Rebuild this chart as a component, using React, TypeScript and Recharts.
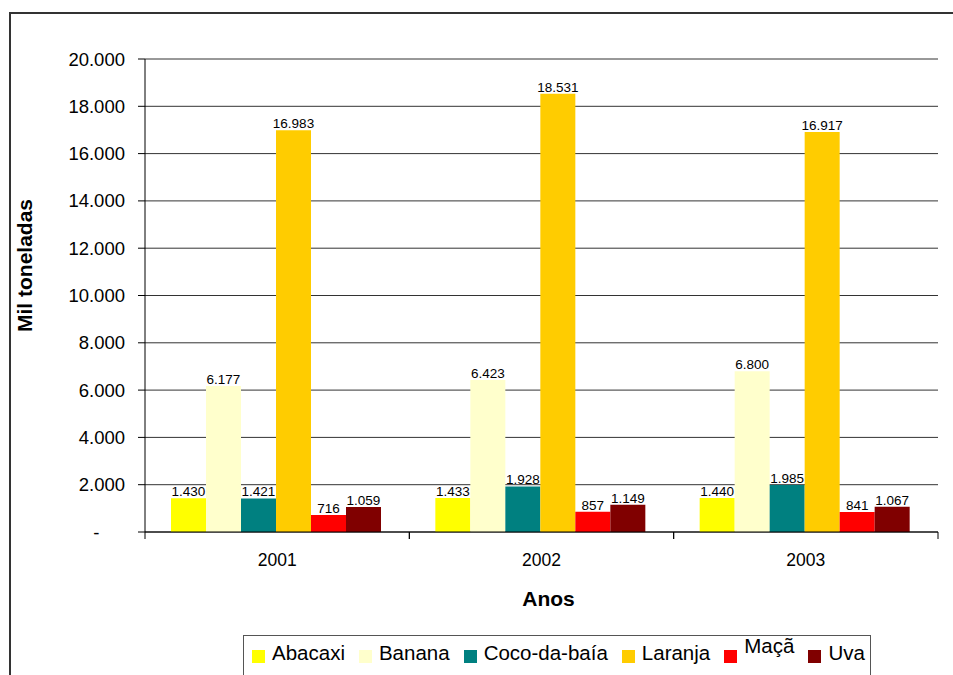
import React from 'react';
import { BarChart, Bar, XAxis, YAxis, CartesianGrid, LabelList, Label } from 'recharts';

const years = ['2001', '2002', '2003'];
const abacaxi = [1430, 1433, 1440];
const banana = [6177, 6423, 6800];
const coco = [1421, 1928, 1985];
const laranja = [16983, 18531, 16917];
const maca = [716, 857, 841];
const uva = [1059, 1149, 1067];
const yTicks = [0, 2000, 4000, 6000, 8000, 10000, 12000, 14000, 16000, 18000, 20000];

const seriesNames = ['Abacaxi', 'Banana', 'Coco-da-baía', 'Laranja', 'Maçã', 'Uva'];
const seriesKeys = ['abacaxi', 'banana', 'coco', 'laranja', 'maca', 'uva'];
const seriesColors = ['#FFFF00', '#FFFFCC', '#008080', '#FFCC00', '#FF0000', '#800000'];

const data = years.map((y, i) => ({
  year: y,
  abacaxi: abacaxi[i],
  banana: banana[i],
  coco: coco[i],
  laranja: laranja[i],
  maca: maca[i],
  uva: uva[i],
}));

const FONT = '"Liberation Sans", Arial, sans-serif';
const W = 953;
const H = 675;
const MARGIN = { top: 59, right: 15, left: 0, bottom: 83 };
const Y_AXIS_W = 145;
const X_AXIS_H = 60;

const fmt = (v: number) =>
  v === 0 ? '-\u00a0\u00a0\u00a0\u00a0\u00a0' : String(v).replace(/\B(?=(\d{3})+(?!\d))/g, '.');
const fmtLabel = (v: any) => String(v).replace(/\B(?=(\d{3})+(?!\d))/g, '.');

const plotW = W - MARGIN.left - MARGIN.right - Y_AXIS_W;
const band = plotW / years.length;

const XTick = (props: any) => {
  const { x, y, payload } = props;
  return (
    <g>
      <line x1={x - band / 2} x2={x - band / 2} y1={y} y2={y + 7} stroke="#000" strokeWidth={1} />
      <line x1={x + band / 2} x2={x + band / 2} y1={y} y2={y + 7} stroke="#000" strokeWidth={1} />
      <text x={x} y={y + 34} textAnchor="middle" fontSize={17.5} fontFamily={FONT} fill="#000">
        {payload.value}
      </text>
    </g>
  );
};

const YTitle = (props: any) => {
  const vb = props.viewBox || {};
  const cx = 24;
  const cy = vb.y + vb.height / 2 - 30;
  return (
    <text
      x={cx}
      y={cy}
      transform={`rotate(-90, ${cx}, ${cy})`}
      textAnchor="middle"
      dominantBaseline="central"
      fontSize={21}
      fontWeight="bold"
      fontFamily={FONT}
      fill="#000"
    >
      Mil toneladas
    </text>
  );
};

const XTitle = (props: any) => {
  const vb = props.viewBox || {};
  const cx = vb.x + vb.width / 2 + 7;
  return (
    <text x={cx} y={606} textAnchor="middle" fontSize={21} fontWeight="bold" fontFamily={FONT} fill="#000">
      Anos
    </text>
  );
};

export default function App() {
  return (
    <div
      style={{
        position: 'fixed',
        left: 0,
        top: 0,
        width: W,
        height: H,
        overflow: 'hidden',
        background: '#fff',
        fontFamily: FONT,
      }}
    >
      <div
        style={{
          position: 'absolute',
          left: 9,
          top: 12,
          width: 1200,
          height: 1200,
          border: '2px solid #333',
          boxSizing: 'border-box',
        }}
      />
      <div style={{ position: 'absolute', left: 0, top: 0 }}>
        <BarChart width={W} height={H} data={data} margin={MARGIN} barGap={0} barCategoryGap={26}>
          <CartesianGrid vertical={false} stroke="#333" strokeWidth={1} />
          <XAxis
            dataKey="year"
            height={X_AXIS_H}
            axisLine={{ stroke: '#000', strokeWidth: 1 }}
            tickLine={false}
            tickSize={0}
            tickMargin={0}
            tick={<XTick />}
            interval={0}
          >
            <Label content={<XTitle />} />
          </XAxis>
          <YAxis
            width={Y_AXIS_W}
            domain={[0, 20000]}
            ticks={yTicks}
            interval={0}
            tickFormatter={fmt}
            axisLine={{ stroke: '#000', strokeWidth: 1 }}
            tickLine={{ stroke: '#000', strokeWidth: 1 }}
            tickSize={7}
            tickMargin={13}
            tick={{ fontSize: 18.5, fill: '#000', fontFamily: FONT }}
          >
            <Label content={<YTitle />} />
          </YAxis>
          {seriesKeys.map((k, i) => (
            <Bar key={k} dataKey={k} name={seriesNames[i]} fill={seriesColors[i]} isAnimationActive={false}>
              <LabelList
                dataKey={k}
                position="top"
                offset={2}
                formatter={fmtLabel}
                style={{ fontSize: 13.5, fill: '#000', fontFamily: FONT }}
              />
            </Bar>
          ))}
        </BarChart>
      </div>
      <div
        style={{
          position: 'absolute',
          left: 243,
          top: 635,
          width: 628,
          height: 50,
          border: '1.5px solid #555',
          boxSizing: 'border-box',
          background: '#fff',
          display: 'flex',
          alignItems: 'flex-start',
          paddingLeft: 8,
          paddingTop: 5,
          fontSize: 20.5,
          color: '#000',
          whiteSpace: 'nowrap',
        }}
      >
        {seriesNames.map((n, i) => (
          <div key={n} style={{ display: 'flex', alignItems: 'center', marginRight: 14 }}>
            <span
              style={{
                display: 'inline-block',
                width: 13,
                height: 13,
                background: seriesColors[i],
                marginRight: 7,
                marginTop: 6,
              }}
            />
            <span style={{ position: 'relative', top: n === 'Maçã' ? -7 : 0, lineHeight: '24px' }}>{n}</span>
          </div>
        ))}
      </div>
    </div>
  );
}
